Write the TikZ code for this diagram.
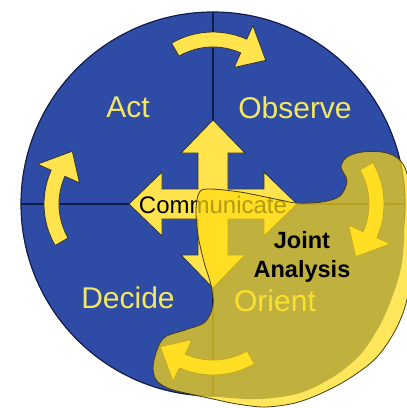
\documentclass[tikz,border=0pt]{standalone}
\usepackage{fontspec}
\setmainfont{Liberation Sans}
\definecolor{discblue}{RGB}{46,76,166}
\definecolor{lineblue}{RGB}{18,28,72}
\definecolor{arrowyellow}{RGB}{255,228,77}
\definecolor{labelyellow}{RGB}{242,232,100}
\definecolor{blobyellow}{RGB}{255,220,20}
\definecolor{blobedge}{RGB}{70,60,20}

\begin{document}
\begin{tikzpicture}[x=1pt, y=-1pt,
    disc/.style={fill=discblue},
    quad/.style={draw=lineblue, line width=1.2pt},
    cyc/.style={fill=arrowyellow, draw=black!80, line width=0.8pt, line join=round},
    comm/.style={fill=arrowyellow, draw=black!80, line width=0.8pt},
    phase/.style={text=labelyellow, font=\fontsize{30}{36}\selectfont, inner sep=0pt},
    blob/.style={fill=blobyellow, fill opacity=0.7, draw=blobedge, line width=0.8pt}
]
\useasboundingbox (0,0) rectangle (407,408);
\clip (0,0) rectangle (407,408);

% ---- disc ----
\coordinate (c) at (213,204);
\coordinate (n) at (213,12);
\coordinate (s) at (213,396);
\coordinate (w) at (21,204);
\coordinate (e) at (405,204);

\filldraw[disc, draw=lineblue, line width=1.2pt] (c) circle[radius=192];
\fill[disc] plot[smooth, tension=0.55] coordinates {(404,215) (404,240) (401,268)
  (393,295) (380,325) (360,355) (333,377) (300,393) (262,399) (230,398) (214,396)}
  -- (c) -- cycle;

\draw[quad] (n) -- (s);
\draw[quad] (w) -- (e);

% ---- loop arrows ----
\coordinate (ta) at (213,115);
\coordinate (ra) at (301,204);
\coordinate (ba) at (213,292);
\coordinate (la) at (127,204);

\filldraw[cyc, shift={(ta)}] (-120:83) arc[start angle=-120, end angle=-66, radius=83]
  -- (-66:98) -- (-46:76) -- (-66:52) -- (-66:68)
  arc[start angle=-66, end angle=-120, radius=68] -- cycle;
\filldraw[cyc, shift={(ra)}] (-30:83) arc[start angle=-30, end angle=24, radius=83]
  -- (24:98) -- (44:76) -- (24:52) -- (24:68)
  arc[start angle=24, end angle=-30, radius=68] -- cycle;
\filldraw[cyc, shift={(ba)}] (60:83) arc[start angle=60, end angle=114, radius=83]
  -- (114:98) -- (134:76) -- (114:52) -- (114:68)
  arc[start angle=114, end angle=60, radius=68] -- cycle;
\filldraw[cyc, shift={(la)}] (150:83) arc[start angle=150, end angle=204, radius=83]
  -- (204:98) -- (224:76) -- (204:52) -- (204:68)
  arc[start angle=204, end angle=150, radius=68] -- cycle;

% ---- four-way arrow ----
\filldraw[comm, shift={(c)}] (84,0) -- (51,-32) -- (51,-15) -- (15,-15) -- (15,-51) -- (32,-51)
  -- (0,-84) -- (-32,-51) -- (-15,-51) -- (-15,-15) -- (-51,-15) -- (-51,-32)
  -- (-84,0) -- (-51,32) -- (-51,15) -- (-15,15) -- (-15,51) -- (-32,51)
  -- (0,84) -- (32,51) -- (15,51) -- (15,15) -- (51,15) -- (51,32) -- cycle;

% ---- labels ----
\node[phase] (act) at (128,107) {Act};
\node[phase] (observe) at (295,108) {Observe};
\node[phase] (decide) at (128,298) {Decide};
\node[phase] (orient) at (275,301) {Orient};
\node[font=\fontsize{24}{28}\selectfont, inner sep=0pt] (communicate) at (213,205) {Communicate};

% ---- joint analysis ----
\draw[blob] plot[smooth cycle, tension=0.55] coordinates {(199,193) (208,189) (240,192)
  (280,200) (297,203) (322,202) (340,196) (347,181) (341,167) (347,157) (362,152)
  (382,152) (396,157) (405,168) (411,195) (412,250) (408,295) (397,327) (377,357)
  (350,378) (322,393) (295,403) (265,407) (237,404) (213,399) (190,394) (170,389)
  (157,381) (153,368) (157,350) (165,337) (185,330) (205,322) (213,305) (211,285)
  (204,262) (198,235) (196,210)};
\node[font=\bfseries\fontsize{23.5}{29}\selectfont, align=center, inner sep=0pt] (joint) at (302,256.5) {Joint\\Analysis};

\end{tikzpicture}
\end{document}
